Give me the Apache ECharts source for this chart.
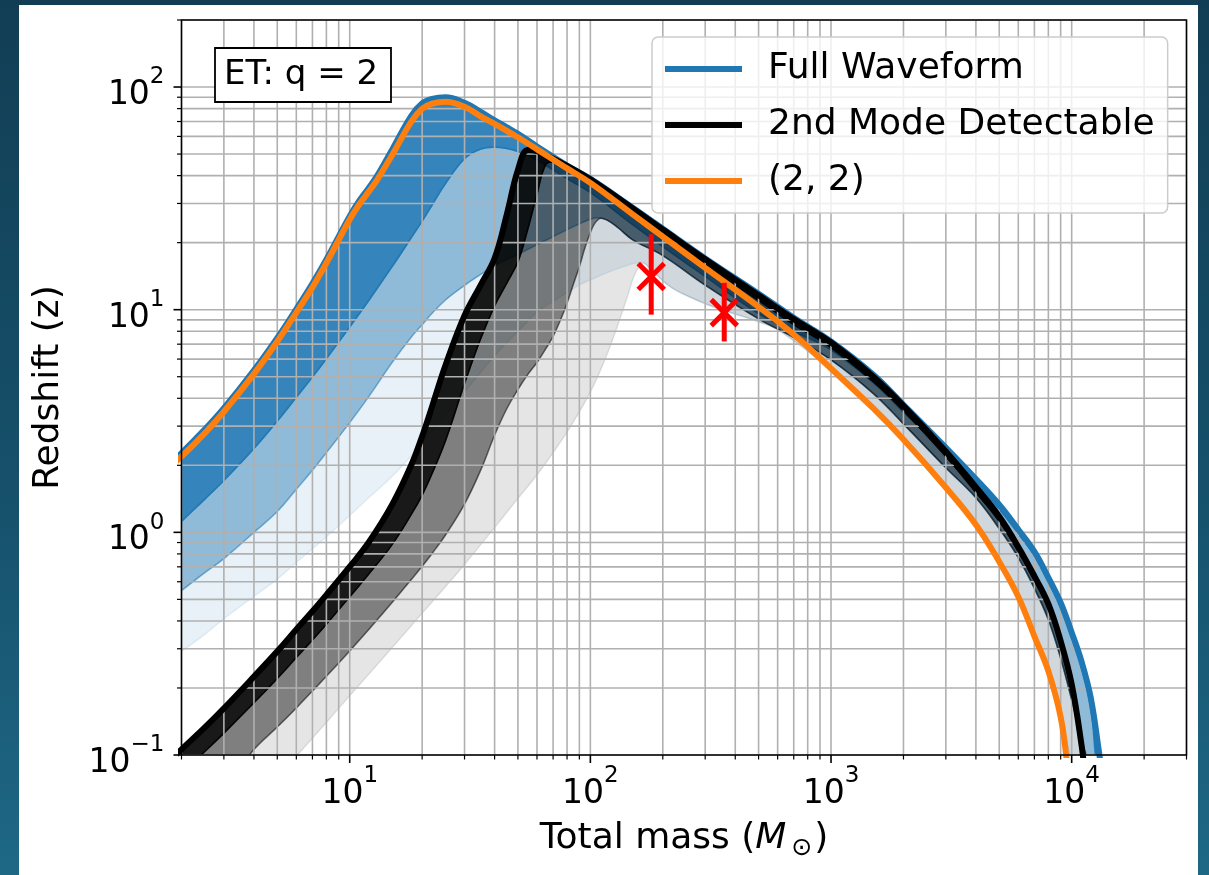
<!DOCTYPE html>
<html>
<head>
<meta charset="utf-8">
<script src="https://cdn.jsdelivr.net/npm/echarts@6/dist/echarts.min.js"></script>
<style>
  html, body { margin: 0; padding: 0; width: 1209px; height: 875px; overflow: hidden;
    background: linear-gradient(180deg, #123e55 0%, #16506a 55%, #1e6886 100%); }
  #chart { position: absolute; left: 19px; top: 5px; width: 1179px; height: 870px; background: #ffffff; }
</style>
</head>
<body>
<div id="chart"></div>
<script>
const FONT = 'DejaVu Sans';
const X_MIN = 2, X_MAX = 30000, Y_MIN = 0.1, Y_MAX = 200;

// Decade ticks and their exponent labels
const xMajorTicks = [10, 100, 1000, 10000];
const xTickExponents = ['1', '2', '3', '4'];
const yMajorTicks = [0.1, 1, 10, 100];
const yTickExponents = ['\u22121', '0', '1', '2'];

// Minor log ticks: 2..9 inside every decade
const xMinorTicks = [];
[1, 10, 100, 1000, 10000].forEach(d => { for (let k = 2; k <= 9; k++) { const v = k * d; if (v >= X_MIN && v <= X_MAX) xMinorTicks.push(v); } });
const yMinorTicks = [];
[0.1, 1, 10, 100].forEach(d => { for (let k = 2; k <= 9; k++) { const v = k * d; if (v >= Y_MIN && v <= Y_MAX * 1.0001) yMinorTicks.push(v); } });

// Horizon curves: [total mass (Msun), redshift]
const fullWaveform = [[1.8,2.05],[2,2.27],[2.5,2.9],[3,3.61],[4,5.34],[5,7.46],[6,10.07],[7,13.1],[8,16.8],[10,26.3],[11,31.0],[12,35.2],[13,39.9],[15,52.3],[18,74.1],[20,84.5],[22,88.5],[25,89.9],[30,84.9],[35,77.4],[40,70.8],[45,65.9],[50,61.6],[60,54.1],[80,44.4],[100,38.7],[150,28.7],[200,23.1],[300,17.0],[500,11.8],[700,9.2],[1000,7.2],[1500,5.1],[2000,3.74],[3000,2.4],[4000,1.736],[5000,1.33],[6000,1.03],[7000,0.819],[8000,0.626],[9000,0.483],[10000,0.355],[11000,0.262],[12000,0.181],[13000,0.1025],[13300,0.085]];
const secondMode = [[1.8,0.095],[2,0.106],[2.5,0.133],[3,0.162],[4,0.225],[5,0.292],[6,0.366],[7,0.442],[8,0.524],[10,0.701],[12,0.902],[15,1.33],[18,2.0],[20,2.7],[22,3.68],[25,5.63],[30,9.42],[35,12.9],[40,17.0],[45,26.9],[50,42.4],[55,52.1],[60,51.5],[70,47.7],[80,44.3],[100,38.5],[150,28.5],[200,22.9],[300,16.85],[500,11.6],[700,9.07],[1000,7.12],[1500,5.0],[2000,3.7],[3000,2.31],[4000,1.595],[5000,1.177],[6000,0.86],[7000,0.636],[8000,0.477],[9000,0.325],[10000,0.208],[11000,0.11],[11300,0.085]];
const mode22 = [[1.8,1.99],[2,2.19],[2.5,2.79],[3,3.48],[4,5.15],[5,7.2],[6,9.71],[7,12.6],[8,16.2],[10,25.4],[11,29.9],[12,33.9],[13,38.3],[15,49.4],[18,69.7],[20,79.9],[22,84.2],[25,85.8],[30,81.5],[35,73.8],[40,68.3],[45,63.6],[50,59.4],[55,55.8],[60,52.5],[70,47.3],[80,43.1],[100,37.1],[150,26.8],[200,21.3],[300,15.4],[500,10.3],[700,7.74],[1000,5.44],[1500,3.6],[2000,2.61],[3000,1.59],[4000,1.083],[5000,0.738],[6000,0.514],[7000,0.341],[8000,0.238],[9000,0.148],[9600,0.09],[9700,0.082]];

// Lower edges of the full-waveform percentile bands
const fwBand1Lower = [[1.8,1.0],[2,1.12],[2.5,1.41],[3,1.71],[4,2.38],[5,3.16],[6,4.04],[7,4.98],[8,6.02],[10,8.36],[12,11.0],[15,15.6],[18,21.0],[20,25.0],[22,29.5],[25,36.8],[30,47.6],[35,52.6],[40,53.7],[45,53.0],[50,51.3],[60,46.9],[80,38.8],[100,33.6],[150,24.1],[200,19.2],[300,14.1],[500,9.6],[700,8.0],[1000,6.6],[1500,4.7],[2000,3.47],[3000,2.27],[4000,1.66],[5000,1.27],[6000,0.985],[7000,0.785],[8000,0.6],[9000,0.46],[10000,0.335],[11000,0.245],[12000,0.163],[12800,0.085]];
const fwBand2Rising = [[1.8,0.5],[2,0.547],[2.5,0.659],[3,0.762],[4,1.0],[5,1.24],[6,1.56],[7,1.9],[8,2.28],[10,3.11],[12,4.07],[15,5.79],[18,7.52],[20,8.56],[22,9.63],[25,11.05],[30,12.85],[35,14.4],[40,15.8],[50,17.7],[60,19.6],[70,21.3],[80,22.9],[90,24.3],[100,25.5],[108,25.9]];
const level2Falling = [[117,25.3],[130,23.4],[150,20.6],[200,17.5],[300,12.9],[500,9.1],[700,7.5],[1000,5.95],[1500,4.2],[2000,3.07],[3000,1.95],[4000,1.43],[5000,1.04],[6000,0.77],[7000,0.56],[8000,0.405],[9000,0.272],[10000,0.177],[11000,0.117],[11800,0.085]];
const fwBand3Rising = [[1.8,0.27],[2,0.292],[2.5,0.348],[3,0.409],[4,0.516],[5,0.616],[6,0.732],[7,0.843],[8,0.953],[10,1.19],[12,1.43],[15,1.78],[18,2.2],[20,2.52],[25,3.37],[30,4.27],[40,6.2],[50,7.98],[60,9.71],[70,10.9],[80,11.9],[90,12.9],[100,13.6],[120,14.8],[140,15.7],[155,16.2]];
const level3Falling = [[166,16.2],[176,15.4],[190,14.2],[210,12.9],[236,11.95],[324,10.3],[500,8.83],[616,8.0],[1000,5.35],[1500,3.5],[2000,2.55],[3000,1.62],[4000,1.09],[5000,0.74],[6000,0.51],[7000,0.345],[8000,0.24],[9000,0.15],[9800,0.1],[10000,0.085]];

// Lower edges of the second-mode percentile bands
const smBand1Lower = [[1.8,0.075],[2,0.0832],[2.5,0.1037],[3,0.1254],[4,0.1715],[5,0.2207],[6,0.274],[7,0.3287],[8,0.387],[10,0.513],[12,0.65],[15,0.881],[18,1.2],[20,1.47],[22,1.84],[25,2.58],[30,4.66],[35,7.41],[40,10.4],[45,13.2],[50,16.4],[55,23.1],[60,33.0],[65,44.5],[70,45.9],[80,42.5],[100,36.6],[150,27.2],[200,21.6],[300,15.9],[500,11.0],[700,8.57],[1000,6.76],[1500,4.75],[2000,3.52],[3000,2.19],[4000,1.51],[5000,1.12],[6000,0.819],[7000,0.607],[8000,0.454],[9000,0.31],[10000,0.198],[11000,0.104],[11250,0.085]];
const smBand2Rising = [[3,0.072],[4,0.1059],[5,0.1335],[6,0.1627],[7,0.1937],[8,0.2256],[10,0.2934],[12,0.366],[15,0.484],[18,0.613],[20,0.704],[22,0.804],[25,0.973],[30,1.34],[35,1.9],[40,2.73],[45,3.6],[50,4.38],[55,5.12],[60,5.79],[65,6.63],[70,7.58],[75,8.94],[80,10.7],[85,13.0],[90,15.6],[95,19.0],[100,22.2],[104,24.3],[110,25.7]];
const smBand3Rising = [[5,0.079],[6,0.0987],[7,0.119],[8,0.14],[10,0.1845],[12,0.2305],[15,0.3035],[18,0.38],[20,0.433],[25,0.57],[30,0.717],[40,1.05],[50,1.42],[60,1.81],[70,2.28],[82.3,2.96],[99.8,4.25],[115,5.97],[129,8.32],[142,11.3],[151,13.9],[158,15.4]];

const fwBand2Lower = fwBand2Rising.concat(level2Falling);
const fwBand3Lower = fwBand3Rising.concat(level3Falling);
const smBand2Lower = smBand2Rising.concat(level2Falling);
const smBand3Lower = smBand3Rising.concat(level3Falling);

// Red error bars: mass, redshift, lower, upper
const errMass = [179, 360];
const errRedshift = [14.1, 9.7];
const errLow = [9.5, 7.2];
const errHigh = [21.8, 13.2];

const BLUE = '#1f77b4', BLACK = '#000000', ORANGE = '#ff7f0e', GRID = '#b0b0b0';
const SMOOTH = 0.4;

function bandSeries(upper, lower, color) {
  return {
    type: 'custom', z: 1, clip: true, silent: true,
    data: [upper[1]],
    renderItem: function (params, api) {
      const pts = upper.map(p => api.coord(p)).concat(lower.slice().reverse().map(p => api.coord(p)));
      return { type: 'polygon', shape: { points: pts, smooth: SMOOTH },
        style: { fill: color, stroke: color, lineWidth: 1.5 } };
    }
  };
}

function renderGrid(params, api) {
  const bl = api.coord([X_MIN, Y_MIN]), tr = api.coord([X_MAX, Y_MAX]);
  const kids = [];
  xMinorTicks.concat(xMajorTicks).forEach(v => {
    const x = api.coord([v, Y_MIN])[0];
    kids.push({ type: 'line', shape: { x1: x, y1: bl[1], x2: x, y2: tr[1] }, style: { stroke: GRID, lineWidth: 1.6 } });
  });
  yMinorTicks.concat(yMajorTicks).forEach(v => {
    const y = api.coord([X_MIN, v])[1];
    kids.push({ type: 'line', shape: { x1: bl[0], y1: y, x2: tr[0], y2: y }, style: { stroke: GRID, lineWidth: 1.6 } });
  });
  return { type: 'group', children: kids };
}

const TICK_RICH = {
  b: { fontFamily: FONT, fontSize: 33, lineHeight: 46, verticalAlign: 'bottom', color: '#000' },
  s: { fontFamily: FONT, fontSize: 23, lineHeight: 24, verticalAlign: 'top', color: '#000' }
};

function renderAxes(params, api) {
  const bl = api.coord([X_MIN, Y_MIN]), tr = api.coord([X_MAX, Y_MAX]);
  const left = bl[0], bottom = bl[1], right = tr[0], top = tr[1];
  const kids = [];
  const tick = (x1, y1, x2, y2, w) => kids.push({ type: 'line', shape: { x1, y1, x2, y2 }, style: { stroke: '#000', lineWidth: w } });
  xMinorTicks.forEach(v => { const x = api.coord([v, Y_MIN])[0]; tick(x, bottom, x, bottom + 4.5, 1.2); });
  yMinorTicks.forEach(v => { const y = api.coord([X_MIN, v])[1]; tick(left, y, left - 4.5, y, 1.2); });
  xMajorTicks.forEach((v, i) => {
    const x = api.coord([v, Y_MIN])[0];
    tick(x, bottom, x, bottom + 8, 1.6);
    kids.push({ type: 'text', x: x, y: bottom + 33, style: {
      text: '{b|10}{s|' + xTickExponents[i] + '}', rich: TICK_RICH, align: 'center', verticalAlign: 'middle',
      fontFamily: FONT, fontSize: 33, fill: '#000' } });
  });
  yMajorTicks.forEach((v, i) => {
    const y = api.coord([X_MIN, v])[1];
    tick(left, y, left - 8, y, 1.6);
    kids.push({ type: 'text', x: left - 17, y: y + 2, style: {
      text: '{b|10}{s|' + yTickExponents[i] + '}', rich: TICK_RICH, align: 'right', verticalAlign: 'middle',
      fontFamily: FONT, fontSize: 33, fill: '#000' } });
  });
  kids.push({ type: 'rect', shape: { x: left, y: top, width: right - left, height: bottom - top },
    style: { fill: 'none', stroke: '#000', lineWidth: 1.5 } });
  // axis titles
  kids.push({ type: 'text', x: (left + right) / 2, y: bottom + 86, style: {
    text: '{n|Total mass (}{i|M}{u|\u2299}{n|)}', align: 'center', verticalAlign: 'middle',
    fontFamily: FONT, fontSize: 36, fill: '#000',
    rich: {
      n: { fontFamily: FONT, fontSize: 36, lineHeight: 40, verticalAlign: 'top', color: '#000' },
      i: { fontFamily: FONT, fontSize: 36, fontStyle: 'italic', lineHeight: 40, verticalAlign: 'top', color: '#000' },
      u: { fontFamily: FONT, fontSize: 25, lineHeight: 26, verticalAlign: 'bottom', color: '#000', padding: [0, 2, 0, 5] }
    } } });
  kids.push({ type: 'text', x: left - 133, y: (top + bottom) / 2, rotation: Math.PI / 2, style: {
    text: 'Redshift (z)', align: 'center', verticalAlign: 'middle', fontFamily: FONT, fontSize: 36, fill: '#000' } });
  return { type: 'group', children: kids };
}

function renderErr(params, api) {
  const m = api.value(0);
  const c = api.coord([m, api.value(1)]);
  const lo = api.coord([m, api.value(2)]);
  const hi = api.coord([m, api.value(3)]);
  const s = 13;
  const st = { stroke: '#ff0000', lineWidth: 5 };
  return { type: 'group', children: [
    { type: 'line', shape: { x1: lo[0], y1: lo[1], x2: hi[0], y2: hi[1] }, style: st },
    { type: 'line', shape: { x1: c[0] - s, y1: c[1] - s, x2: c[0] + s, y2: c[1] + s }, style: st },
    { type: 'line', shape: { x1: c[0] - s, y1: c[1] + s, x2: c[0] + s, y2: c[1] - s }, style: st }
  ] };
}

function curve(name, data, color) {
  return { type: 'line', name: name, data: data, color: color, showSymbol: false, smooth: SMOOTH,
    lineStyle: { color: color, width: 6 }, z: 3, clip: true, silent: true };
}

const chart = echarts.init(document.getElementById('chart'), null, { renderer: 'canvas' });
chart.setOption({
  animation: false,
  grid: { left: 162.5, top: 15, width: 1005, height: 735, show: false },
  xAxis: { type: 'log', logBase: 10, min: X_MIN, max: X_MAX,
    axisLine: { show: false }, axisTick: { show: false }, axisLabel: { show: false }, splitLine: { show: false } },
  yAxis: { type: 'log', logBase: 10, min: Y_MIN, max: Y_MAX,
    axisLine: { show: false }, axisTick: { show: false }, axisLabel: { show: false }, splitLine: { show: false } },
  title: { text: 'ET: q = 2', left: 196, top: 43, padding: [8, 13, 8, 9],
    borderColor: '#000', borderWidth: 1.8, backgroundColor: '#fff', z: 20,
    textStyle: { fontFamily: FONT, fontSize: 34, fontWeight: 'normal', color: '#000', lineHeight: 38 } },
  legend: { orient: 'vertical', left: 633, top: 32, selectedMode: false, z: 20,
    data: ['Full Waveform', '2nd Mode Detectable', '(2, 2)'],
    icon: 'rect', itemWidth: 77, itemHeight: 6, itemGap: 16, padding: [12, 13, 12, 13],
    backgroundColor: 'rgba(255,255,255,0.8)', borderColor: '#cccccc', borderWidth: 1.5, borderRadius: 6,
    textStyle: { fontFamily: FONT, fontSize: 36, color: '#000', lineHeight: 40, padding: [0, 0, 0, 21] } },
  series: [
    bandSeries(fullWaveform, fwBand1Lower, 'rgba(31,119,180,0.9)'),
    bandSeries(fwBand1Lower, fwBand2Lower, 'rgba(31,119,180,0.5)'),
    bandSeries(fwBand2Lower, fwBand3Lower, 'rgba(31,119,180,0.1)'),
    bandSeries(secondMode, smBand1Lower, 'rgba(0,0,0,0.9)'),
    bandSeries(smBand1Lower, smBand2Lower, 'rgba(0,0,0,0.5)'),
    bandSeries(smBand2Lower, smBand3Lower, 'rgba(0,0,0,0.1)'),
    { type: 'custom', z: 2, silent: true, clip: false, data: [[X_MIN, Y_MIN]], renderItem: renderGrid },
    curve('Full Waveform', fullWaveform, BLUE),
    curve('2nd Mode Detectable', secondMode, BLACK),
    curve('(2, 2)', mode22, ORANGE),
    { type: 'custom', z: 4, silent: true, clip: false, encode: { x: 0, y: 1 },
      data: errMass.map((m, i) => [m, errRedshift[i], errLow[i], errHigh[i]]), renderItem: renderErr },
    { type: 'custom', z: 5, silent: true, clip: false, data: [[X_MIN, Y_MIN]], renderItem: renderAxes }
  ]
});
</script>
</body>
</html>
